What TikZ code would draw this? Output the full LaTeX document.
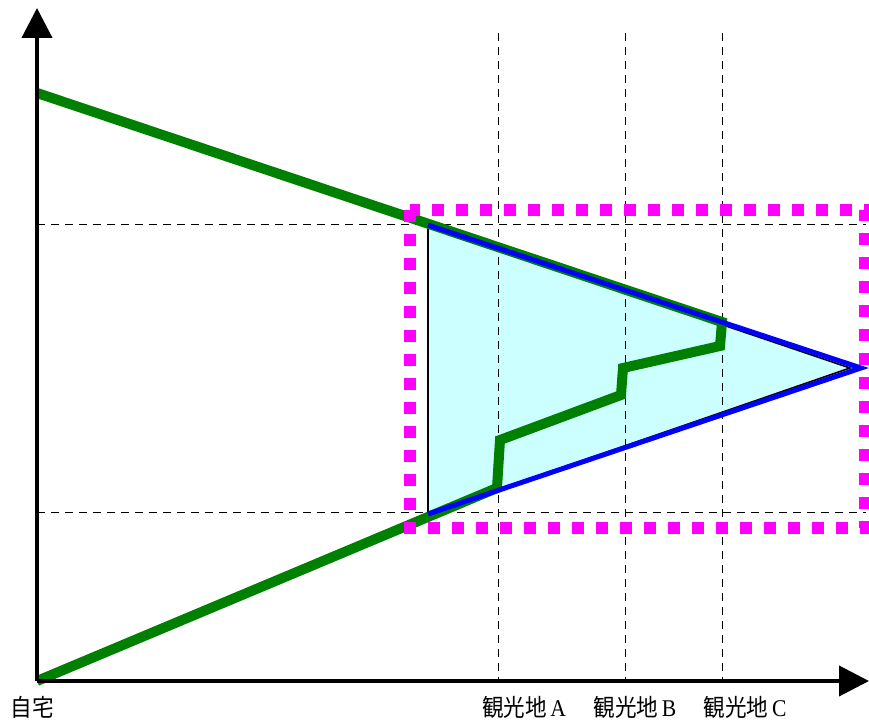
\documentclass[tikz,border=0pt]{standalone}
\usepackage{fontspec}
\setmainfont{Liberation Serif}
\newfontfamily\cjk{Noto Sans CJK JP}
\usetikzlibrary{arrows.meta}
\definecolor{routec}{RGB}{0,128,0}
\definecolor{areac}{RGB}{204,255,255}
\definecolor{boxc}{RGB}{255,0,255}

\begin{document}
\begin{tikzpicture}[x=0.5pt,y=-0.5pt,font=\fontsize{12}{14}\selectfont]
\tikzstyle{axis}=[line width=2pt,-{Triangle[length=15pt,width=15pt]}]
\tikzstyle{guide}=[line width=0.5pt,dash pattern=on 4pt off 3pt]
\tikzstyle{route}=[routec,line width=5pt,line join=miter]
\tikzstyle{lab}=[inner sep=0pt,anchor=center,xscale=0.9]
\useasboundingbox (0,0) rectangle (869,727);
% axes
\coordinate (o) at (37,681);
\coordinate (ytop) at (37,8);
\coordinate (xend) at (869,681);
% reachable area
\coordinate (p) at (428,225);
\coordinate (q) at (428,514);
\coordinate (r) at (850,368);
\coordinate (rb) at (861,368);
\fill[areac] (p) -- (r) -- (q) -- cycle;
\draw[line width=0.8pt] (p) -- (r) -- (q) -- cycle;
% guide lines
\draw[guide] (37,225) -- (866,225);
\draw[guide] (37,513) -- (866,513);
\foreach \x in {498,625,722} \draw[guide] (\x,33) -- (\x,681);
% route
\draw[route] (37,93) -- (722,322) -- (720,346) -- (623,368) -- (621,395)
  -- (500,440) -- (497,488) -- (o);
\draw[blue,line width=2.5pt] (p) -- (rb) -- (q);
% box
\draw[boxc,line width=6pt,dash pattern=on 6pt off 6pt] (410,210) rectangle (865,528);
\draw[axis] (o) -- (ytop);
\draw[axis] (o) -- (xend);
% labels
\node[lab] (home) at (32,707) {\cjk 自宅};
\node[lab] (sa) at (524,707) {\cjk 観光地\,\rmfamily A};
\node[lab] (sb) at (635,707) {\cjk 観光地\,\rmfamily B};
\node[lab] (sc) at (745,707) {\cjk 観光地\,\rmfamily C};
\end{tikzpicture}
\end{document}
